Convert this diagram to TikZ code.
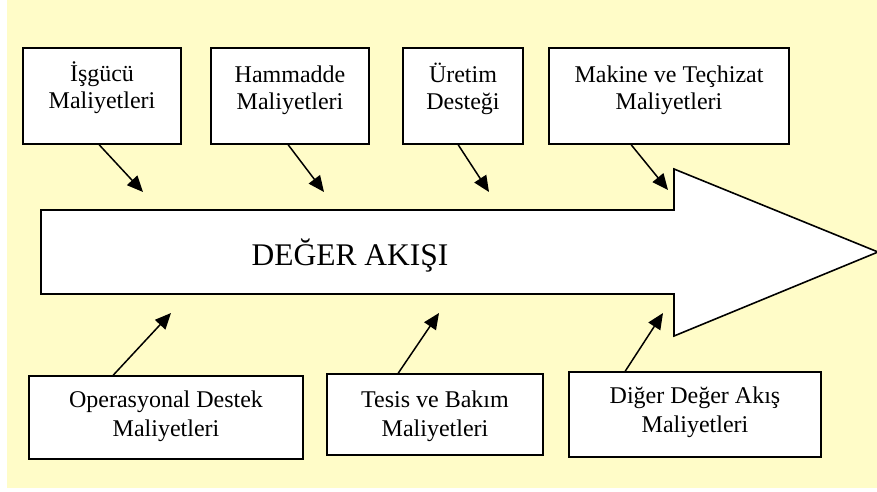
\documentclass[tikz,border=0pt]{standalone}
\usepackage{fontspec}
\setmainfont{Liberation Serif}
\usetikzlibrary{arrows.meta,calc}
\definecolor{bgyellow}{RGB}{255,252,200}
\newcommand\myTopStrut{\rule{0pt}{22pt}}
\tikzset{
  box/.style={draw=black, fill=white, line width=1.6pt, inner sep=0pt},
  lbl/.style={anchor=north, inner sep=0pt, align=center},
  toplbl/.style={lbl, font=\fontsize{24}{27}\selectfont},
  botlbl/.style={lbl, font=\fontsize{24}{29}\selectfont},
  arr/.style={line width=1.5pt, -{Triangle[length=16pt,width=14pt]}},
  bigarrow/.style={draw=black, fill=white, line width=1.6pt, line join=miter}
}
\begin{document}
\begin{tikzpicture}[x=1pt,y=-1pt]
\useasboundingbox (0,0) rectangle (877,491);
\fill[white] (0,0) rectangle (877,491);
\fill[bgyellow] (7,0) rectangle (877,488);

% main value-stream arrow
\draw[bigarrow] (41,210) -- (674,210) -- (674,169) -- (878,252) -- (674,336) -- (674,294) -- (41,294) -- cycle;
\node[inner sep=0pt, anchor=base, font=\fontsize{31.5}{36}\selectfont] (title) at (350,265) {DEĞER AKIŞI};

% top boxes
\node[box, minimum width=158pt, minimum height=96pt] (b1) at (102,96) {};
\node[box, minimum width=158pt, minimum height=96pt] (b2) at (290,96) {};
\node[box, minimum width=120pt, minimum height=96pt] (b3) at (463,96) {};
\node[box, minimum width=240pt, minimum height=96pt] (b4) at (669,96) {};
\node[toplbl] (t1) at (102,59) {\myTopStrut İşgücü\\Maliyetleri};
\node[toplbl] (t2) at (290,60) {\myTopStrut Hammadde\\Maliyetleri};
\node[toplbl] (t3) at (463,60) {\myTopStrut Üretim\\Desteği};
\node[toplbl] (t4) at (669,60) {\myTopStrut Makine ve Teçhizat\\Maliyetleri};

% bottom boxes
\node[box, minimum width=274pt, minimum height=83pt] (c1) at (166,417.5) {};
\node[box, minimum width=216pt, minimum height=81pt] (c2) at (435,414.5) {};
\node[box, minimum width=252pt, minimum height=85pt] (c3) at (695,414.5) {};
\node[botlbl] (u1) at (166,385) {\myTopStrut Operasyonal Destek\\Maliyetleri};
\node[botlbl] (u2) at (435,385) {\myTopStrut Tesis ve Bakım\\Maliyetleri};
\node[botlbl] (u3) at (695,381) {\myTopStrut Diğer Değer Akış\\Maliyetleri};

% arrow end points
\coordinate (e1) at (143,192);
\coordinate (e2) at (324,192);
\coordinate (e3) at (489,192);
\coordinate (e4) at (668,190);
\coordinate (f1) at (171,313);
\coordinate (f2) at (439,313);
\coordinate (f3) at (663,313);

\draw[arr] ([xshift=77pt]b1.south west) -- (e1);
\draw[arr] ([xshift=78pt]b2.south west) -- (e2);
\draw[arr] ([xshift=56pt]b3.south west) -- (e3);
\draw[arr] ([xshift=83pt]b4.south west) -- (e4);
\draw[arr] ([xshift=85pt]c1.north west) -- (f1);
\draw[arr] ([xshift=72pt]c2.north west) -- (f2);
\draw[arr] ([xshift=57pt]c3.north west) -- (f3);
\end{tikzpicture}
\end{document}
